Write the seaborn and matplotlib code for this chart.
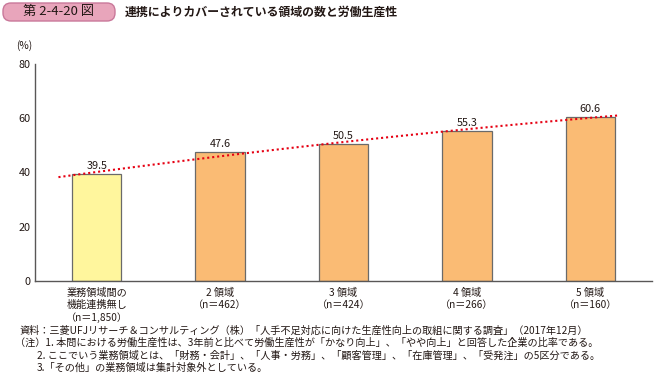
import numpy as np
import pandas as pd
import seaborn as sns
import matplotlib.pyplot as plt
from matplotlib.patches import FancyBboxPatch

# data
categories = ['業務領域間の\n機能連携無し\n（n＝1,850）', '2 領域\n（n＝462）', '3 領域\n（n＝424）',
              '4 領域\n（n＝266）', '5 領域\n（n＝160）']
values = [39.5, 47.6, 50.5, 55.3, 60.6]
bar_colors = ['#FFF69D', '#FABB74', '#FABB74', '#FABB74', '#FABB74']
yticks = [0, 20, 40, 60, 80]

title_tag = '第 2-4-20 図'
title = '連携によりカバーされている領域の数と労働生産性'
notes = [
    '資料：三菱UFJリサーチ＆コンサルティング（株）「人手不足対応に向けた生産性向上の取組に関する調査」（2017年12月）',
    '（注）1. 本問における労働生産性は、3年前と比べて労働生産性が「かなり向上」、「やや向上」と回答した企業の比率である。',
    '2. ここでいう業務領域とは、「財務・会計」、「人事・労務」、「顧客管理」、「在庫管理」、「受発注」の5区分である。',
    '3.「その他」の業務領域は集計対象外としている。',
]

sns.set_style('white')
plt.rcParams['font.family'] = ['Noto Sans CJK JP', 'DejaVu Sans']
txt = '#231815'
axc = '#595757'

df = pd.DataFrame({'cat': categories, 'val': values})

fig = plt.figure(figsize=(6.54, 3.76), dpi=100)
ax = fig.add_axes([35 / 654, 1 - 281 / 376, 617 / 654, 217 / 376])

sns.barplot(data=df, x='cat', y='val', hue='cat', palette=bar_colors, width=0.4,
            saturation=1, edgecolor='#6a6a6a', linewidth=0.9, legend=False, ax=ax, zorder=2)

# trend line (quadratic fit of the values)
x = np.arange(len(values))
coef = np.polyfit(x, values, 2)
xs = np.linspace(-0.31, 4.24, 60)
ax.plot(xs, np.polyval(coef, xs), color='#E60012', lw=1.5, linestyle=(0, (1, 1.4)), zorder=3)

for i, v in enumerate(values):
    ax.text(i, v + 1.0, f'{v}', ha='center', va='bottom', fontsize=7.8, color=txt, zorder=4)

ax.set_xlim(-0.5, 4.5)
ax.set_ylim(0, 80)
ax.set_yticks(yticks)
ax.set_xticks(x)
ax.set_xticklabels(categories, fontsize=7.3, color=txt, linespacing=1.25)
ax.set_xticks([0.5, 1.5, 2.5, 3.5, 4.5], minor=True)
ax.tick_params(axis='x', which='major', length=0, pad=5)
ax.tick_params(axis='x', which='minor', length=3, direction='in', color=axc, width=0.8)
ax.tick_params(axis='y', length=4, direction='in', color=axc, width=0.8, labelsize=7.8,
               labelcolor=txt, pad=3)
ax.set_xlabel('')
ax.set_ylabel('')
sns.despine(ax=ax)
for s in ['left', 'bottom']:
    ax.spines[s].set_color(axc)
    ax.spines[s].set_linewidth(1.0)

# overlay in pixel coordinates for header and notes
ov = fig.add_axes([0, 0, 1, 1], zorder=-1)
ov.set_xlim(0, 654)
ov.set_ylim(376, 0)
ov.axis('off')
ov.add_patch(FancyBboxPatch((3, 3), 112, 18, boxstyle='round,pad=0,rounding_size=8',
                            fc='#E8A5BB', ec='#C9789A', lw=1.0))
ov.text(59, 12, title_tag, ha='center', va='center', fontsize=9.5, color=txt)
ov.text(125, 12, title, ha='left', va='center', fontsize=8.6, color=txt, fontweight='bold')
ov.text(24, 46, '(%)', ha='center', va='center', fontsize=7.3, color=txt)

note_pos = [(19, 331), (15, 343), (37, 356), (37, 368)]
for (nx, ny), s in zip(note_pos, notes):
    ov.text(nx, ny, s, ha='left', va='center', fontsize=7.3, color=txt)

fig.savefig('out.png', dpi=100)
